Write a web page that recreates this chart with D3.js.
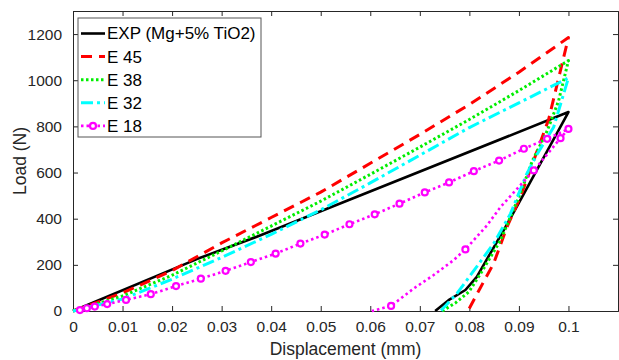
<!DOCTYPE html>
<html>
<head>
<meta charset="utf-8">
<script src="https://cdn.jsdelivr.net/npm/d3@7"></script>
<style>
  body { margin: 0; background: #fff; }
  svg { display: block; font-family: "Liberation Sans", Arial, sans-serif; }
</style>
</head>
<body>
<svg width="619" height="360"></svg>
<script>
// data (displacement in mm, load in N)
const expX = [0, 0.025, 0.0371, 0.05, 0.1, 0.0903, 0.0873, 0.0842, 0.0815, 0.0792, 0.0758, 0.0731];
const expY = [0, 225, 322, 432, 862, 480, 364, 249, 148, 91, 47, 0];

const e45X = [0, 0.01, 0.02, 0.03, 0.04, 0.05, 0.06, 0.07, 0.08, 0.09, 0.1, 0.096, 0.0903, 0.0876, 0.0849, 0.0822, 0.0797];
const e45Y = [0, 78, 175, 295, 405, 515, 640, 765, 895, 1035, 1185, 830, 494, 364, 206, 100, 0];

const e38X = [0, 0.01, 0.02, 0.03, 0.04, 0.05, 0.06, 0.07, 0.08, 0.09, 0.1, 0.098, 0.0957, 0.0927, 0.0903, 0.0863, 0.0825, 0.0799, 0.0772, 0.0745];
const e38Y = [0, 65, 155, 260, 368, 476, 592, 710, 830, 955, 1085, 910, 780, 650, 510, 307, 170, 83, 35, 0];

const e32X = [0, 0.01, 0.02, 0.03, 0.04, 0.05, 0.06, 0.07, 0.08, 0.09, 0.1, 0.097, 0.0937, 0.0916, 0.0883, 0.0849, 0.0795, 0.0775, 0.0742];
const e32Y = [0, 52, 138, 232, 332, 438, 555, 675, 795, 902, 1010, 796, 681, 595, 422, 292, 134, 76, 0];

// E 18 loading branch (every point carries a marker)
const e18LoadX = [0.0014, 0.0028, 0.0044, 0.0069, 0.0107, 0.0157, 0.0208, 0.0258, 0.0308, 0.0359, 0.0409, 0.0459, 0.0508, 0.0558, 0.0609, 0.0659, 0.071, 0.0759, 0.0809, 0.086, 0.091, 0.0957, 0.1];
const e18LoadY = [4, 12, 19, 30, 48, 73, 108, 140, 174, 212, 249, 292, 331, 376, 419, 465, 514, 557, 606, 652, 703, 746, 789];
// E 18 unloading branch, 1 = marker drawn
const e18UnloadX = [0.0984, 0.093, 0.0863, 0.0836, 0.0792, 0.0768, 0.0728, 0.0688, 0.0642, 0.0603];
const e18UnloadY = [749, 609, 451, 372, 267, 220, 156, 98, 22, 0];
const e18UnloadMark = [1, 1, 0, 0, 1, 0, 0, 0, 1, 0];

const xTicks = [0, 0.01, 0.02, 0.03, 0.04, 0.05, 0.06, 0.07, 0.08, 0.09, 0.1];
const yTicks = [0, 200, 400, 600, 800, 1000, 1200];
const seriesNames = ['EXP (Mg+5% TiO2)', 'E 45', 'E 38', 'E 32', 'E 18'];

const margin = { top: 11, right: 1, bottom: 49, left: 73 };
const width = 619 - margin.left - margin.right;
const height = 360 - margin.top - margin.bottom;
const axisColor = '#262626';

const x = d3.scaleLinear().domain([0, 0.11]).range([0, width]);
const y = d3.scaleLinear().domain([0, 1300]).range([height, 0]);

const svg = d3.select('svg');
const g = svg.append('g').attr('transform', `translate(${margin.left},${margin.top})`);

const zip = (xs, ys) => xs.map((v, i) => [v, ys[i]]);
const e18Points = zip(e18LoadX, e18LoadY).concat(zip(e18UnloadX, e18UnloadY));
const e18Markers = zip(e18LoadX, e18LoadY)
  .concat(zip(e18UnloadX, e18UnloadY).filter((d, i) => e18UnloadMark[i]));

const styles = [
  { color: '#000000', width: 2.6, dash: null },
  { color: '#ff0000', width: 3, dash: '11,7' },
  { color: '#00ee00', width: 3, dash: '2.5,2.5' },
  { color: '#00ffff', width: 3, dash: '12,4,3,4' },
  { color: '#ff00ff', width: 2.6, dash: '2.5,3' },
];

const series = [
  zip(expX, expY),
  zip(e45X, e45Y),
  zip(e38X, e38Y),
  zip(e32X, e32Y),
  e18Points,
];

// axes box
const xAxisB = d3.axisBottom(x).tickValues(xTicks).tickFormat(d3.format('~g')).tickSize(-5).tickPadding(10);
const xAxisT = d3.axisTop(x).tickValues(xTicks).tickFormat('').tickSize(-5);
const yAxisL = d3.axisLeft(y).tickValues(yTicks).tickFormat(d3.format('d')).tickSize(-5).tickPadding(11);
const yAxisR = d3.axisRight(y).tickValues(yTicks).tickFormat('').tickSize(-5);

const axes = [
  g.append('g').attr('transform', `translate(0,${height})`).call(xAxisB),
  g.append('g').call(xAxisT),
  g.append('g').call(yAxisL),
  g.append('g').attr('transform', `translate(${width},0)`).call(yAxisR),
];
axes.forEach(a => {
  a.select('.domain').attr('stroke', axisColor).attr('stroke-width', 1);
  a.selectAll('.tick line').attr('stroke', axisColor);
  a.selectAll('.tick text').attr('fill', axisColor).style('font-size', '15.5px')
    .style('font-family', '"Liberation Sans", Arial, sans-serif');
});

// curves
const line = d3.line().x(d => x(d[0])).y(d => y(d[1]));
const plot = g.append('g');
series.forEach((pts, i) => {
  plot.append('path')
    .attr('d', line(pts))
    .attr('fill', 'none')
    .attr('stroke', styles[i].color)
    .attr('stroke-width', styles[i].width)
    .attr('stroke-dasharray', styles[i].dash)
    .attr('stroke-linejoin', 'round');
});
plot.selectAll('circle')
  .data(e18Markers)
  .enter()
  .append('circle')
  .attr('cx', d => x(d[0]))
  .attr('cy', d => y(d[1]))
  .attr('r', 3)
  .attr('fill', '#fff')
  .attr('stroke', '#ff00ff')
  .attr('stroke-width', 2.2);

// axis labels
svg.append('text')
  .attr('x', margin.left + width / 2)
  .attr('y', 355)
  .attr('text-anchor', 'middle')
  .attr('fill', axisColor)
  .style('font-size', '17.5px')
  .text('Displacement (mm)');
svg.append('text')
  .attr('transform', `translate(26,${margin.top + height / 2}) rotate(-90)`)
  .attr('text-anchor', 'middle')
  .attr('fill', axisColor)
  .style('font-size', '17.5px')
  .text('Load (N)');

// legend
const legend = g.append('g').attr('transform', 'translate(5,7)');
legend.append('rect')
  .attr('width', 183)
  .attr('height', 119)
  .attr('fill', '#fff')
  .attr('stroke', '#555')
  .attr('stroke-width', 1);
seriesNames.forEach((name, i) => {
  const row = legend.append('g').attr('transform', `translate(0,${15.5 + i * 23.1})`);
  row.append('line')
    .attr('x1', 3).attr('x2', 27)
    .attr('stroke', styles[i].color)
    .attr('stroke-width', styles[i].width)
    .attr('stroke-dasharray', styles[i].dash);
  if (i === 4) {
    row.append('circle').attr('cx', 15).attr('r', 3)
      .attr('fill', '#fff').attr('stroke', '#ff00ff').attr('stroke-width', 2.2);
  }
  row.append('text')
    .attr('x', 29)
    .attr('dy', '0.35em')
    .attr('fill', '#000')
    .style('font-size', '17px')
    .text(name);
});
</script>
</body>
</html>
